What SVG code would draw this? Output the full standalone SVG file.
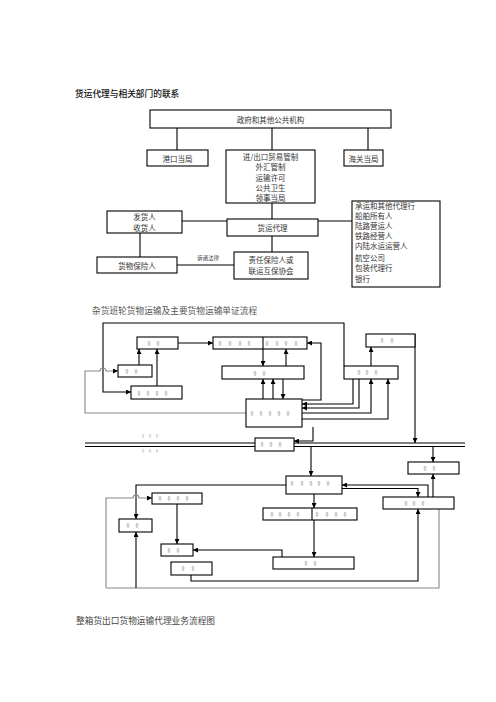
<svg xmlns="http://www.w3.org/2000/svg" width="496" height="702" viewBox="0 0 496 702">
<defs>
<style>
.bx{fill:#fff;stroke:#000;stroke-width:1.1}
.ln{fill:none;stroke:#000;stroke-width:1.1}
.gl{fill:none;stroke:#888;stroke-width:1.1}
.t{font-family:"Noto Sans CJK SC","Noto Sans CJK JP",sans-serif;font-size:7.5px;fill:#333;text-anchor:middle;dominant-baseline:central}
.tl{text-anchor:start}
.ttl{font-family:"Noto Sans CJK SC",sans-serif;font-size:8.7px;dominant-baseline:central}
.q{font-family:"DejaVu Sans Mono","DejaVu Sans",monospace;font-size:6.5px;fill:#555;text-anchor:middle;dominant-baseline:central;text-rendering:geometricPrecision}
.qs{font-size:5px;fill:#888}
</style>
<marker id="ah" viewBox="0 0 10 10" refX="10" refY="5" markerWidth="6" markerHeight="5" markerUnits="userSpaceOnUse" orient="auto"><path d="M0,0L10,5L0,10z" fill="#000"/></marker>
</defs>
<rect width="496" height="702" fill="#fff"/>

<text class="ttl" x="75" y="93" fill="#111" font-weight="500">货运代理与相关部门的联系</text>
<text class="ttl" x="92" y="310" fill="#555">杂货班轮货物运输及主要货物运输单证流程</text>
<text class="ttl" x="76" y="620" fill="#444">整箱货出口货物运输代理业务流程图</text>

<g id="connectors1">
<path class="ln" d="M177,128V150M272,128V150M368,128V150M272,203V219M182,221H352M140,233V257M177,265H234M272,236V252"/>
<text class="t" x="208" y="258" style="font-size:5.5px">诉诸法律</text>
</g>
<g id="n-gov"><rect class="bx" x="150" y="110" width="241" height="18"/><text class="t" x="270.5" y="119">政府和其他公共机构</text></g>
<g id="n-port"><rect class="bx" x="147" y="150" width="61" height="16"/><text class="t" x="177.5" y="158">港口当局</text></g>
<g id="n-trade"><rect class="bx" x="226" y="150" width="89" height="53"/>
<text class="t" x="270.5" y="156">进/出口贸易管制</text><text class="t" x="270.5" y="166.5">外汇管制</text><text class="t" x="270.5" y="177">运输许可</text><text class="t" x="270.5" y="187">公共卫生</text><text class="t" x="270.5" y="197">领事当局</text></g>
<g id="n-customs"><rect class="bx" x="344" y="150" width="39" height="16"/><text class="t" x="363.5" y="158">海关当局</text></g>
<g id="n-fwd"><rect class="bx" x="227" y="219" width="91" height="17"/><text class="t" x="272.5" y="227.5">货运代理</text></g>
<g id="n-shipper"><rect class="bx" x="107" y="211" width="75" height="22"/><text class="t" x="144.5" y="216.5">发货人</text><text class="t" x="144.5" y="227">收货人</text></g>
<g id="n-cargoins"><rect class="bx" x="97" y="257" width="80" height="16"/><text class="t" x="137" y="265">货物保险人</text></g>
<g id="n-liab"><rect class="bx" x="234" y="252" width="74" height="27"/><text class="t" x="271" y="259.5">责任保险人或</text><text class="t" x="271" y="270">联运互保协会</text></g>
<g id="n-carrier"><rect class="bx" x="352" y="201" width="88" height="86"/>
<text class="t tl" x="355" y="205.5">承运和其他代理行</text><text class="t tl" x="355" y="215.5">船舶所有人</text><text class="t tl" x="355" y="225.5">陆路营运人</text><text class="t tl" x="355" y="235.5">铁路经营人</text><text class="t tl" x="355" y="245.5">内陆水运运营人</text><text class="t tl" x="355" y="257">航空公司</text><text class="t tl" x="355" y="267.5">包装代理行</text><text class="t tl" x="355" y="278">银行</text></g>

<g id="connectors2">
<path class="ln" d="M344,366V323H103V392H131" marker-end="url(#ah)"/>
<path class="ln" d="M178,343H213" marker-end="url(#ah)"/>
<path class="ln" d="M139,365V349" marker-end="url(#ah)"/>
<path class="ln" d="M157,386V349" marker-end="url(#ah)"/>
<path class="gl" d="M246,413H85V371H100a3,3 0 0 1 6,0H118" marker-end="url(#ah)"/>
<path class="ln" d="M263,349V366" marker-end="url(#ah)"/>
<path class="ln" d="M286,366V349" marker-end="url(#ah)"/>
<path class="ln" d="M263,399V379" marker-end="url(#ah)"/>
<path class="ln" d="M273,399V379" marker-end="url(#ah)"/>
<path class="ln" d="M283,379V399" marker-end="url(#ah)"/>
<path class="ln" d="M302,400H321V343H307" marker-end="url(#ah)"/>
<path class="ln" d="M353,379V404H302" marker-end="url(#ah)"/>
<path class="ln" d="M359,379V408H302" marker-end="url(#ah)"/>
<path class="ln" d="M302,413H371V379" marker-end="url(#ah)"/>
<path class="ln" d="M302,419H388V379" marker-end="url(#ah)"/>
<path class="ln" d="M371,366V347" marker-end="url(#ah)"/>
<path class="ln" d="M415,334V443" marker-end="url(#ah)"/>
<path class="ln" d="M313,427V441H294" marker-end="url(#ah)"/>
<path class="ln" d="M85,443H465M85,446.5H465"/>
<path class="ln" d="M311,447V476" marker-end="url(#ah)"/>
<path class="ln" d="M433,447V462" marker-end="url(#ah)"/>
<path class="ln" d="M428,497V485H342" marker-end="url(#ah)"/>
<path class="ln" d="M342,488.5H418V497" marker-end="url(#ah)"/>
<path class="ln" d="M433,497V474" marker-end="url(#ah)"/>
<path class="ln" d="M314,494V508" marker-end="url(#ah)"/>
<path class="ln" d="M314,520V557" marker-end="url(#ah)"/>
<path class="ln" d="M287,485H136V519" marker-end="url(#ah)"/>
<path class="gl" d="M106,588V498H133a3,3 0 0 1 6,0H152" marker-end="url(#ah)"/>
<path class="gl" d="M106,588H439V509"/>
<path class="ln" d="M136,588V532" marker-end="url(#ah)"/>
<path class="ln" d="M177,504V544" marker-end="url(#ah)"/>
<path class="ln" d="M282,557V550H193" marker-end="url(#ah)"/>
<path class="ln" d="M191,575V581H418V509" marker-end="url(#ah)"/>
<text class="q qs" x="143 150 157" y="436">▯▯▯</text>
<text class="q qs" x="143 150 157" y="451">▯▯▯</text>
</g>

<g id="b1"><rect class="bx" x="137" y="337" width="41" height="12"/><text class="q" x="149 158" y="343">▯▯</text></g>
<g id="b2"><rect class="bx" x="213" y="337" width="94" height="12"/><path class="ln" d="M263,337V349"/><text class="q" x="220 230 240 249 267 277 286 296" y="343">▯▯▯▯▯▯▯▯</text></g>
<g id="b3"><rect class="bx" x="118" y="365" width="34" height="12"/><text class="q" x="127 136" y="371">▯▯</text></g>
<g id="b4"><rect class="bx" x="131" y="386" width="51" height="13"/><text class="q" x="139 148 157 166" y="392.5">▯▯▯▯</text></g>
<g id="b5"><rect class="bx" x="222" y="366" width="82" height="13"/><text class="q" x="255 264" y="372.5">▯▯</text></g>
<g id="b6"><rect class="bx" x="246" y="399" width="56" height="28"/><text class="q" x="252 261 270 279 288" y="413">▯▯▯▯▯</text></g>
<g id="b7"><rect class="bx" x="344" y="366" width="54" height="13"/><text class="q" x="359 367 376" y="372">▯▯▯</text></g>
<g id="b8"><rect class="bx" x="366" y="334" width="49" height="13"/><text class="q" x="382 392" y="340">▯▯</text></g>
<g id="b9"><rect class="bx" x="255" y="438" width="39" height="13"/><text class="q" x="262 271 280" y="444">▯▯▯</text></g>
<g id="b10"><rect class="bx" x="408" y="462" width="51" height="12"/><text class="q" x="425 434" y="468">▯▯</text></g>
<g id="b11"><rect class="bx" x="286" y="476" width="56" height="18"/><text class="q" x="292 302 311 319 328" y="483">▯▯▯▯▯</text></g>
<g id="b12"><rect class="bx" x="152" y="493" width="50" height="11"/><text class="q" x="160 169 178 187" y="498">▯▯▯▯</text></g>
<g id="b13"><rect class="bx" x="119" y="519" width="33" height="13"/><text class="q" x="128 137" y="525">▯▯</text></g>
<g id="b14"><rect class="bx" x="263" y="508" width="94" height="12"/><path class="ln" d="M312,508V520"/><text class="q" x="272 280 289 298 317 327 336 345" y="514">▯▯▯▯▯▯▯▯</text></g>
<g id="b15"><rect class="bx" x="161" y="544" width="32" height="12"/><text class="q" x="169 178" y="550">▯▯</text></g>
<g id="b16"><rect class="bx" x="171" y="562" width="41" height="13"/><text class="q" x="183 193" y="568">▯▯</text></g>
<g id="b17"><rect class="bx" x="383" y="497" width="71" height="12"/><text class="q" x="406 414 423" y="503">▯▯▯</text></g>
<g id="b18"><rect class="bx" x="273" y="557" width="81" height="12"/><text class="q" x="306 315" y="563">▯▯</text></g>
</svg>
